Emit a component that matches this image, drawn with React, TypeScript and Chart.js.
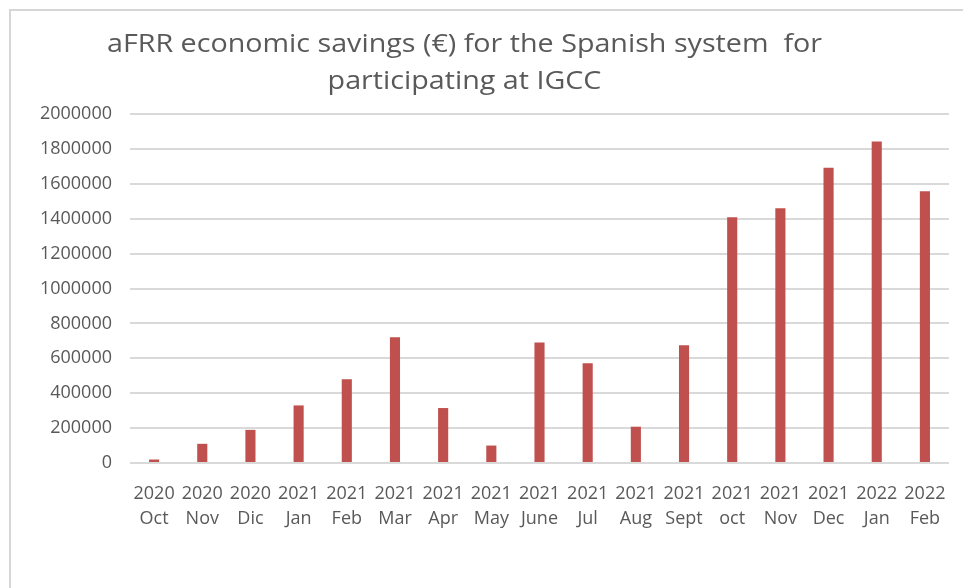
import React, { useEffect, useRef } from "react";
import { Chart, registerables } from "chart.js";

Chart.register(...registerables);

const TITLE_LINES = ["aFRR economic savings (€) for the Spanish system  for", "participating at IGCC"];
const YEARS = ["2020", "2020", "2020", "2021", "2021", "2021", "2021", "2021", "2021", "2021", "2021", "2021", "2021", "2021", "2021", "2022", "2022"];
const MONTHS = ["Oct", "Nov", "Dic", "Jan", "Feb", "Mar", "Apr", "May", "June", "Jul", "Aug", "Sept", "oct", "Nov", "Dec", "Jan", "Feb"];
const SAVINGS = [20000, 110000, 190000, 330000, 480000, 720000, 315000, 100000, 690000, 572000, 208000, 675000, 1408000, 1460000, 1692000, 1842000, 1557000];
const Y_MAX = 2000000;
const Y_STEP = 200000;

const FONT = '"Open Sans", "Liberation Sans", sans-serif';
const TEXT_COLOR = "#595959";
const BAR_COLOR = "#C0504D";
const GRID_COLOR = "#d9d9d9";

const titlePlugin = {
  id: "customTitle",
  afterDraw(chart: any) {
    const ctx = chart.ctx;
    ctx.save();
    ctx.font = `25px ${FONT}`;
    ctx.fillStyle = TEXT_COLOR;
    ctx.textAlign = "center";
    ctx.textBaseline = "alphabetic";
    const cx = 456.5;
    const w0 = ctx.measureText(TITLE_LINES[0]).width;
    const sx = 715 / w0;
    ctx.translate(cx, 0);
    ctx.scale(sx, 1);
    TITLE_LINES.forEach((t, i) => ctx.fillText(t, 0, 44 + i * 37));
    ctx.restore();
  },
};

export default function App() {
  const ref = useRef<HTMLCanvasElement | null>(null);

  useEffect(() => {
    if (!ref.current) return;
    const labels = YEARS.map((y, i) => [y, MONTHS[i]]);
    const chart = new Chart(ref.current, {
      type: "bar",
      data: {
        labels,
        datasets: [
          {
            data: SAVINGS,
            backgroundColor: BAR_COLOR,
            barPercentage: 0.21,
            categoryPercentage: 1,
          },
        ],
      },
      plugins: [titlePlugin],
      options: {
        animation: false,
        responsive: false,
        maintainAspectRatio: false,
        layout: { padding: { top: 106, right: 22, left: 0, bottom: 0 } },
        plugins: {
          legend: { display: false },
          title: { display: false },
          tooltip: { enabled: false },
        },
        scales: {
          x: {
            grid: { display: false, drawTicks: false },
            border: { display: false },
            ticks: {
              color: TEXT_COLOR,
              font: { family: FONT, size: 18, lineHeight: 1.39 },
              padding: 18,
              maxRotation: 0,
              autoSkip: false,
            },
            afterFit(scale: any) {
              scale.height = 125;
            },
          },
          y: {
            min: 0,
            max: Y_MAX,
            grid: { color: GRID_COLOR, lineWidth: 2, drawTicks: false },
            border: { display: false },
            ticks: {
              stepSize: Y_STEP,
              color: TEXT_COLOR,
              font: { family: FONT, size: 18 },
              padding: 18,
              callback: (v: any) => String(v),
            },
            afterFit(scale: any) {
              scale.width = 122;
            },
          },
        },
      },
    });
    return () => chart.destroy();
  }, []);

  return (
    <div style={{ position: "relative", width: 963, height: 580 }}>
      <div
        style={{
          position: "absolute",
          left: 1,
          top: 1,
          width: 962,
          height: 579,
          borderTop: "2px solid #d6d6d6",
          borderLeft: "2px solid #d6d6d6",
          boxSizing: "border-box",
        }}
      />
      <canvas ref={ref} width={963} height={580} style={{ position: "absolute", left: 0, top: 0 }} />
    </div>
  );
}
